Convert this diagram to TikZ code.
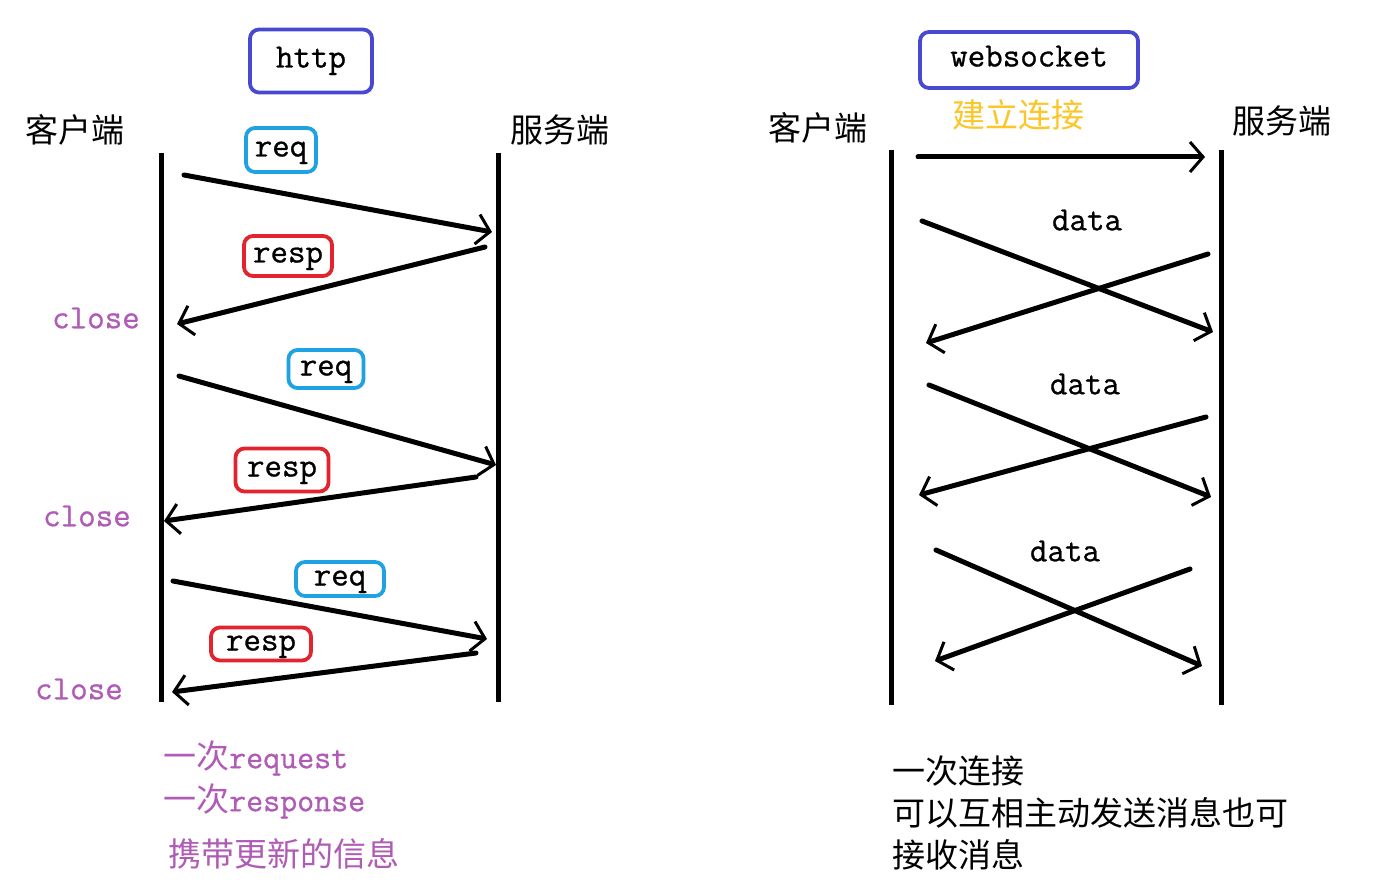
\documentclass[tikz,border=0pt]{standalone}
\usepackage{fontspec}
\newfontfamily\cjk{Noto Sans CJK SC}
\newfontfamily\monof{Latin Modern Mono}[FakeBold=0.8]
\usetikzlibrary{arrows.meta}
\definecolor{boxblue}{RGB}{72,72,208}
\definecolor{reqblue}{RGB}{30,162,226}
\definecolor{respred}{RGB}{226,36,46}
\definecolor{closepurple}{RGB}{176,92,182}
\definecolor{linkyellow}{RGB}{250,198,40}
\begin{document}
\begin{tikzpicture}[x=1pt,y=-1pt,
  lifeline/.style={line width=5pt},
  msg/.style={line width=5pt, line cap=round,
    -{Straight Barb[length=13pt,width=30pt,line width=3pt]}},
  tag/.style={draw, rounded corners=9pt, line width=3.8pt, inner sep=0pt,
    text height=15pt, text depth=2pt,
    font=\fontsize{34}{36}\selectfont\monof},
  side/.style={anchor=west, inner sep=0pt, font=\fontsize{33}{36}\selectfont\cjk},
  closelbl/.style={anchor=west, inner sep=0pt, text=closepurple,
    font=\fontsize{34}{36}\selectfont\monof},
  datalbl/.style={inner sep=0pt, font=\fontsize{34}{36}\selectfont\monof},
  note/.style={anchor=west, inner sep=0pt, font=\fontsize{33}{36}\selectfont\cjk}
]
\useasboundingbox (0,0) rectangle (1375,882);
\fill[white] (0,0) rectangle (1375,882);

% ================= HTTP =================
\node[tag, draw=boxblue, minimum width=122pt, minimum height=63pt] (http) at (311,61) {http};
\node[side] (cl) at (25,130) {客户端};
\node[side] (sv) at (510,130) {服务端};

\coordinate (lt) at (161,153); \coordinate (lb) at (161,702);
\coordinate (rt) at (498,153); \coordinate (rb) at (498,702);
\draw[lifeline] (lt) -- (lb);
\draw[lifeline] (rt) -- (rb);

\node[tag, draw=reqblue, minimum width=70pt, minimum height=44pt] (req1) at (281,150) {req};
\node[tag, draw=respred, minimum width=88pt, minimum height=40pt] (resp1) at (288,256) {resp};
\node[tag, draw=reqblue, minimum width=75pt, minimum height=38pt] (req2) at (326,369) {req};
\node[tag, draw=respred, minimum width=93pt, minimum height=43pt] (resp2) at (282,470) {resp};
\node[tag, draw=reqblue, minimum width=88pt, minimum height=34pt] (req3) at (340,579) {req};
\node[tag, draw=respred, minimum width=100pt, minimum height=33pt] (resp3) at (261,644) {resp};

\coordinate (a1s) at (184,175); \coordinate (a1e) at (492,232);
\coordinate (a2s) at (485,247); \coordinate (a2e) at (177,324);
\coordinate (a3s) at (179,376); \coordinate (a3e) at (496,465);
\coordinate (a4s) at (476,477); \coordinate (a4e) at (164,521);
\coordinate (a5s) at (173,581); \coordinate (a5e) at (487,639);
\coordinate (a6s) at (476,653); \coordinate (a6e) at (172,692);
\draw[msg] (a1s) -- (a1e);
\draw[msg] (a2s) -- (a2e);
\draw[msg] (a3s) -- (a3e);
\draw[msg] (a4s) -- (a4e);
\draw[msg] (a5s) -- (a5e);
\draw[msg] (a6s) -- (a6e);

\node[closelbl] (close1) at (52,318) {close};
\node[closelbl] (close2) at (43,516) {close};
\node[closelbl] (close3) at (35,689) {close};

\node[note, text=closepurple] (n1) at (163,758) {一次{\monof request}};
\node[note, text=closepurple] (n2) at (163,801) {一次{\monof response}};
\node[note, text=closepurple] (n3) at (168,854) {携带更新的信息};

% ================= WebSocket =================
\node[tag, draw=boxblue, minimum width=218pt, minimum height=56pt] (ws) at (1029,60) {websocket};
\node[side, text=linkyellow] (link) at (952,115) {建立连接};
\node[side] (cl2) at (768,128) {客户端};
\node[side] (sv2) at (1232,121) {服务端};

\coordinate (wlt) at (891,150); \coordinate (wlb) at (891,705);
\coordinate (wrt) at (1221,150); \coordinate (wrb) at (1221,705);
\draw[lifeline] (wlt) -- (wlb);
\draw[lifeline] (wrt) -- (wrb);

\coordinate (c0s) at (918,157); \coordinate (c0e) at (1205,157);
\draw[msg] (c0s) -- (c0e);

\node[datalbl] (d1) at (1087,220) {data};
\coordinate (c1s) at (922,221); \coordinate (c1e) at (1213,332);
\coordinate (c2s) at (1208,254); \coordinate (c2e) at (926,343);
\draw[msg] (c1s) -- (c1e);
\draw[msg] (c2s) -- (c2e);

\node[datalbl] (d2) at (1085,384) {data};
\coordinate (c3s) at (929,385); \coordinate (c3e) at (1211,497);
\coordinate (c4s) at (1206,417); \coordinate (c4e) at (919,495);
\draw[msg] (c3s) -- (c3e);
\draw[msg] (c4s) -- (c4e);

\node[datalbl] (d3) at (1065,551) {data};
\coordinate (c5s) at (936,550); \coordinate (c5e) at (1202,666);
\coordinate (c6s) at (1190,569) ; \coordinate (c6e) at (935,661);
\draw[msg] (c5s) -- (c5e);
\draw[msg] (c6s) -- (c6e);

\node[note] (m1) at (892,771) {一次连接};
\node[note] (m2) at (892,813) {可以互相主动发送消息也可};
\node[note] (m3) at (892,855) {接收消息};
\end{tikzpicture}
\end{document}
